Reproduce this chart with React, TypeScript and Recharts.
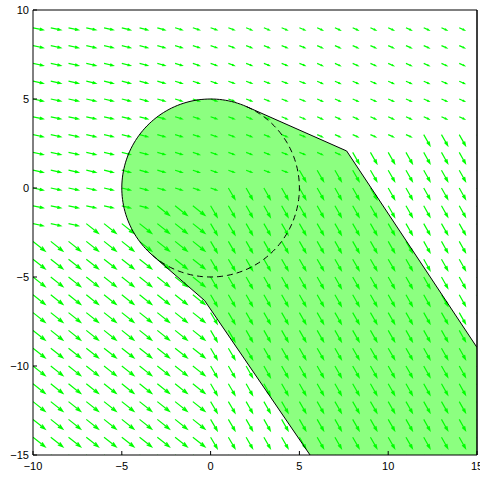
import { Area, ComposedChart, Line, ReferenceLine, XAxis, YAxis } from "recharts";

const xTicks = [-10, -5, 0, 5, 10, 15];
const yTicks = [-15, -10, -5, 0, 5, 10];

// quiver grid (arrow bases)
const gridX = [-10, -9, -8, -7, -6, -5, -4, -3, -2, -1, 0, 1, 2, 3, 4, 5, 6, 7, 8, 9, 10, 11, 12, 13, 14, 15];
const gridY = [9, 8, 7, 6, 5, 4, 3, 2, 1, 0, -1, -2, -3, -4, -5, -6, -7, -8, -9, -10, -11, -12, -13, -14, -15];

// per row: first x where the long/steep field starts (16 = none in this row)
const frontStartX = [16, 16, 16, 16, 16, 16, 12, 8, 5, 1, -3, -7, -10, -10, -10, -10, -10, -10, -10, -10, -10, -10, -10, -10, -10];

// per column: arrow components above the front
const upperU = [0.57, 0.56, 0.55, 0.53, 0.51, 0.48, 0.45, 0.42, 0.39, 0.36, 0.34, 0.32, 0.31, 0.3, 0.3, 0.3, 0.29, 0.29, 0.29, 0.29, 0.29, 0.29, 0.29, 0.29, 0.29, 0.29];
const upperV = [-0.12, -0.12, -0.12, -0.12, -0.12, -0.12, -0.12, -0.12, -0.12, -0.12, -0.12, -0.12, -0.12, -0.12, -0.12, -0.12, -0.13, -0.13, -0.13, -0.13, -0.13, -0.13, -0.13, -0.13, -0.13, -0.13];
// per column: arrow components below the front
const lowerU = [0.68, 0.68, 0.68, 0.68, 0.68, 0.68, 0.68, 0.68, 0.68, 0.68, 0.37, 0.37, 0.36, 0.36, 0.36, 0.36, 0.36, 0.36, 0.36, 0.36, 0.36, 0.36, 0.35, 0.35, 0.35, 0.35];
const lowerV = [-0.54, -0.54, -0.54, -0.54, -0.54, -0.54, -0.54, -0.54, -0.54, -0.54, -0.63, -0.63, -0.63, -0.63, -0.63, -0.63, -0.63, -0.63, -0.63, -0.63, -0.63, -0.63, -0.62, -0.62, -0.62, -0.62];

// obstacle: circle plus swept band
const circleR = 5;
const upperTangentDeg = 66.4;
const lowerTangentDeg = 229;
const upperEdge = [[7.66, 2.08], [15, -8.96]];
const lowerEdge = [[-0.34, -6.32], [5.6, -15], [15, -15]];

type Pt = { x: number; y: number | null };

const arcPts = (from: number, to: number): [number, number][] => {
  const out: [number, number][] = [];
  const n = Math.max(2, Math.ceil(Math.abs(to - from) / 2));
  for (let i = 0; i <= n; i++) {
    const a = ((from + ((to - from) * i) / n) * Math.PI) / 180;
    out.push([circleR * Math.cos(a), circleR * Math.sin(a)]);
  }
  return out;
};

// arrows: shaft + two head barbs, broken by null points
const arrowPts: Pt[] = [];
gridY.forEach((y, r) => {
  gridX.forEach((x, c) => {
    const low = x >= frontStartX[r];
    const u = low ? lowerU[c] : upperU[c];
    const v = low ? lowerV[c] : upperV[c];
    const tx = x + u;
    const ty = y + v;
    const a = 0.33;
    const b = 0.33;
    arrowPts.push({ x, y }, { x: tx, y: ty }, { x: tx, y: null });
    arrowPts.push(
      { x: tx - a * (u + b * v), y: ty - a * (v - b * u) },
      { x: tx, y: ty },
      { x: tx - a * (u - b * v), y: ty - a * (v + b * u) },
      { x: tx, y: null }
    );
  });
});

// fill region as a range area
const upperPoly = [...arcPts(180, upperTangentDeg), ...upperEdge];
const lowerPoly = [...arcPts(180, lowerTangentDeg), ...lowerEdge];
const interp = (poly: number[][], x: number) => {
  for (let i = 1; i < poly.length; i++) {
    const [x0, y0] = poly[i - 1];
    const [x1, y1] = poly[i];
    if (x >= x0 && x <= x1) return x1 === x0 ? y1 : y0 + ((y1 - y0) * (x - x0)) / (x1 - x0);
  }
  return poly[poly.length - 1][1];
};
const regionXs = Array.from(new Set([...upperPoly, ...lowerPoly].map((p) => p[0]))).sort((p, q) => p - q);
const regionPts = regionXs.map((x) => ({ x, r: [interp(lowerPoly, x), interp(upperPoly, x)] }));

const outlinePts: Pt[] = [
  ...[...lowerEdge.slice(0, 2)].reverse(),
  ...arcPts(lowerTangentDeg, upperTangentDeg),
  ...upperEdge,
].map(([x, y]) => ({ x, y }));
const dashedPts: Pt[] = arcPts(lowerTangentDeg - 360, upperTangentDeg).map(([x, y]) => ({ x, y }));

const fmt = (v: number) => (v < 0 ? `\u2212${Math.abs(v)}` : `${v}`);
const tickStyle = { fill: "#000", fontSize: 11, fontFamily: "Liberation Sans, Arial, sans-serif" };

export default function App() {
  return (
    <div style={{ position: "absolute", left: 0, top: 0 }}>
      <ComposedChart width={480} height={477} margin={{ top: 9, right: 0, bottom: 0, left: 0 }}>
        <XAxis
          type="number"
          dataKey="x"
          domain={[-10, 15]}
          ticks={xTicks}
          interval={0}
          allowDataOverflow
          height={22}
          tickSize={-4}
          tickMargin={11}
          stroke="#000"
          tick={tickStyle}
          tickFormatter={fmt}
        />
        <XAxis
          xAxisId="top"
          orientation="top"
          type="number"
          dataKey="x"
          domain={[-10, 15]}
          ticks={xTicks}
          interval={0}
          allowDataOverflow
          height={1}
          tickSize={-4}
          stroke="#000"
          tick={false}
        />
        <YAxis
          type="number"
          domain={[-15, 10]}
          ticks={yTicks}
          interval={0}
          allowDataOverflow
          width={33}
          tickSize={-4}
          tickMargin={8}
          stroke="#000"
          tick={tickStyle}
          tickFormatter={fmt}
        />
        <YAxis
          yAxisId="right"
          orientation="right"
          type="number"
          domain={[-15, 10]}
          ticks={yTicks}
          interval={0}
          allowDataOverflow
          width={3}
          tickSize={-4}
          stroke="#000"
          tick={false}
        />
        <Area
          data={regionPts}
          dataKey="r"
          type="linear"
          fill="#8cff80"
          fillOpacity={1}
          stroke="none"
          isAnimationActive={false}
        />
        <Line
          data={arrowPts}
          dataKey="y"
          stroke="#00ff00"
          strokeWidth={1.2}
          dot={false}
          activeDot={false}
          isAnimationActive={false}
        />
        <Line
          data={dashedPts}
          dataKey="y"
          stroke="#000"
          strokeWidth={1}
          strokeDasharray="6 4"
          dot={false}
          activeDot={false}
          isAnimationActive={false}
        />
        <Line
          data={outlinePts}
          dataKey="y"
          stroke="#000"
          strokeWidth={1}
          dot={false}
          activeDot={false}
          isAnimationActive={false}
        />
        <Line
          xAxisId="top"
          yAxisId="right"
          data={outlinePts}
          dataKey="y"
          stroke="none"
          dot={false}
          activeDot={false}
          isAnimationActive={false}
        />
        <ReferenceLine x={15} stroke="#000" strokeWidth={1} />
      </ComposedChart>
    </div>
  );
}
